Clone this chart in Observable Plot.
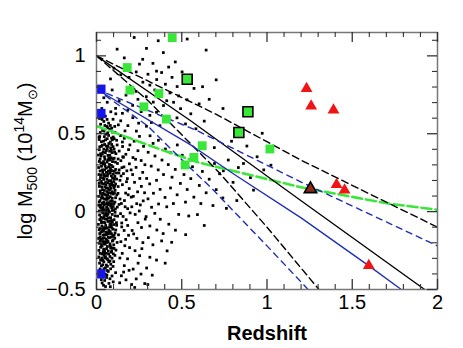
<!DOCTYPE html>
<html>
<head>
<meta charset="utf-8">
<script src="https://cdn.jsdelivr.net/npm/d3@7"></script>
<script src="https://cdn.jsdelivr.net/npm/@observablehq/plot@0.6"></script>
<style>
  html, body { margin: 0; padding: 0; background: #fff; }
</style>
</head>
<body>
<div id="chart"></div>
<script>
// ---- data ----
const xTicksMajor = [0, 0.5, 1, 1.5, 2];
const yTicksMajor = [-0.5, 0, 0.5, 1];
const xTicksMinor = [0.1,0.2,0.3,0.4,0.6,0.7,0.8,0.9,1.1,1.2,1.3,1.4,1.6,1.7,1.8,1.9];
const yTicksMinor = [-0.4,-0.3,-0.2,-0.1,0.1,0.2,0.3,0.4,0.6,0.7,0.8,0.9,1.1];

// black points: the low-redshift cluster sample
const clusterDots = [
[.031,.662],[.084,.641],[.052,.613],[.113,.628],[.018,.598],[.043,.579],[.071,.568],[.097,.593],[.128,.557],[.061,.547],[.024,.561],[.089,.536],
[.036,.521],[.054,.497],[.079,.528],[.108,.509],[.141,.488],[.019,.482],[.063,.468],[.098,.479],[.167,.518],[.041,.452],[.072,.437],[.093,.461],
[.121,.428],[.029,.419],[.048,.431],[.152,.447],[.083,.409],[.016,.397],[.039,.383],[.058,.392],[.103,.401],[.114,.372],[.133,.389],[.067,.361],
[.027,.357],[.091,.379],[.188,.398],[.021,.338],[.047,.352],[.062,.318],[.081,.331],[.104,.343],[.123,.309],[.038,.306],[.143,.327],[.087,.297],
[.158,.349],[.012,.283],[.033,.268],[.051,.291],[.069,.259],[.082,.277],[.112,.271],[.131,.248],[.044,.238],[.058,.252],[.099,.241],[.149,.282],
[.178,.262],[.023,.219],[.042,.207],[.064,.228],[.073,.198],[.094,.216],[.118,.209],[.031,.181],[.053,.187],[.078,.176],[.102,.193],[.138,.201],
[.017,.162],[.034,.141],[.049,.158],[.061,.129],[.084,.149],[.097,.168],[.109,.137],[.038,.118],[.071,.121],[.127,.161],[.091,.128],[.022,.133],
[.013,.098],[.029,.087],[.053,.108],[.064,.079],[.081,.096],[.093,.068],[.112,.089],[.042,.061],[.074,.057],[.119,.107],[.138,.081],[.021,.071],
[.024,.042],[.039,.027],[.056,.048],[.068,.019],[.083,.037],[.101,.012],[.122,.029],[.031,.003],[.062,.008],[.088,.051],[.109,-.004],[.132,.046],
[.018,-.021],[.043,-.033],[.058,-.012],[.071,-.041],[.092,-.018],[.103,-.052],[.124,-.029],[.027,-.058],[.052,-.047],[.079,-.061],[.141,-.013],[.036,-.009],
[.011,-.082],[.032,-.093],[.049,-.071],[.063,-.104],[.084,-.078],[.098,-.113],[.118,-.088],[.041,-.121],[.072,-.117],[.093,-.067],[.148,-.098],[.022,-.108],
[.019,-.141],[.038,-.152],[.054,-.131],[.069,-.163],[.088,-.142],[.107,-.171],[.028,-.178],[.061,-.183],[.081,-.128],[.129,-.149],[.046,-.168],
[.016,-.203],[.033,-.221],[.051,-.209],[.068,-.192],[.083,-.232],[.101,-.213],[.042,-.241],[.059,-.238],[.121,-.198],[.024,-.229],
[.021,-.268],[.039,-.257],[.053,-.289],[.071,-.272],[.089,-.251],[.108,-.281],[.032,-.298],[.062,-.303],[.047,-.263],
[.018,-.331],[.043,-.322],[.058,-.343],[.079,-.318],[.097,-.352],[.052,-.361],[.029,-.348],
[.033,-.381],[.051,-.402],[.069,-.384],[.091,-.413],[.038,-.421],[.112,-.392],[.048,-.442],[.073,-.461],[.041,-.473],[.098,-.451],[.081,-.482],[.022,-.401],
[.046,.481],[.066,.506],[.088,.472],[.028,.449],[.057,.421],[.077,.388],[.034,.371],[.049,.336],[.072,.344],[.094,.321],[.026,.313],[.058,.279],
[.076,.303],[.091,.263],[.037,.252],[.067,.241],[.087,.229],[.047,.226],[.056,.171],[.089,.184],[.112,.177],[.028,.195],[.067,.149],[.102,.152],
[.046,.136],[.076,.139],[.033,.103],[.061,.091],[.099,.113],[.047,.081],[.067,.043],[.089,.024],[.047,.012],[.076,-.003],[.098,.033],[.026,.022],
[.061,-.027],[.083,-.039],[.039,-.043],[.067,-.063],[.087,-.091],[.054,-.089],[.029,-.072],[.077,-.097],[.043,-.103],[.058,-.148],[.096,-.158],[.034,-.128],
[.073,-.141],[.049,-.193],[.079,-.207],[.093,-.189],[.036,-.192],[.064,-.224],[.087,-.261],[.044,-.281],[.067,-.309],[.036,-.313],[.084,-.338],[.063,-.378],
[.028,-.437],[.059,-.423],[.062,.592],[.049,.553],[.081,.553],[.107,.547],[.118,.458],[.127,.338],[.111,.318],[.117,.248],[.126,.117],[.108,.061],
[.117,-.071],[.109,-.137],[.114,-.247],[.101,-.321],[.014,.238],[.013,.041],[.012,-.172],[.014,-.291],[.011,.363],[.015,.478],[.097,.417],[.133,.268],
[.022,.508],[.044,.517],[.071,.489],[.093,.511],[.016,.463],[.053,.461],[.081,.447],[.104,.468],[.034,.427],[.067,.419],[.089,.431],[.019,.416],
[.043,.401],[.063,.404],[.087,.394],[.106,.382],[.024,.372],[.052,.378],[.078,.362],[.097,.338],[.017,.322],[.041,.321],[.066,.331],[.086,.346],
[.029,.291],[.048,.307],[.071,.287],[.096,.288],[.021,.261],[.047,.269],[.078,.264],[.104,.259],[.028,.236],[.056,.231],[.081,.247],[.108,.226],
[.019,.202],[.037,.217],[.061,.207],[.085,.199],[.104,.211],[.043,.178],[.067,.186],[.092,.172],[.016,.181],[.031,.159],[.058,.152],[.079,.162],
[.106,.163],[.023,.117],[.044,.113],[.066,.108],[.087,.117],[.105,.121],[.037,.088],[.057,.079],[.072,.089],[.092,.086],[.016,.062],[.034,.053],
[.061,.058],[.083,.069],[.102,.051],[.021,.031],[.043,.044],[.059,.027],[.078,.047],[.093,.007],[.017,.004],[.037,.014],[.053,-.006],[.072,.004],
[.111,.017],[.026,-.037],[.048,-.022],[.067,-.017],[.088,-.057],[.109,-.027],[.019,-.051],[.041,-.068],[.061,-.049],[.079,-.081],[.101,-.083],
[.016,-.116],[.036,-.113],[.052,-.108],[.071,-.131],[.091,-.106],[.113,-.118],[.026,-.132],[.046,-.148],[.064,-.139],[.087,-.163],[.103,-.152],
[.021,-.162],[.038,-.172],[.057,-.176],[.076,-.168],[.097,-.183],[.021,-.188],[.043,-.206],[.062,-.198],[.081,-.221],[.103,-.236],[.028,-.211],
[.047,-.252],[.069,-.253],[.092,-.233],[.014,-.249],[.034,-.272],[.057,-.268],[.079,-.288],[.099,-.271],[.024,-.312],[.049,-.298],[.072,-.322],
[.091,-.299],[.037,-.341],[.064,-.351],[.083,-.367],[.021,-.368],[.044,-.367],[.061,-.407],[.079,-.431],[.033,-.458],[.053,-.481],[.067,.538],[.033,.592],
[.142,.583],[.163,.471],[.184,.552],[.153,.418],[.172,.368],[.193,.307],[.161,.287],[.144,.229],[.181,.212],[.203,.268],[.152,.173],[.171,.119],
[.192,.148],[.146,.052],[.164,.071],[.183,.019],[.204,.093],[.156,-.031],[.174,-.052],[.197,-.008],[.162,-.121],[.183,-.089],[.143,-.193],[.171,-.178],
[.194,-.231],[.151,-.268],[.182,-.303],[.163,-.347],[.146,-.412],[.191,-.377],[.173,-.438],[.206,-.468],[.136,-.457],[.154,.352],[.196,.428],[.207,.031],
[.166,-.219],[.137,-.298],[.186,.108],[.209,-.121],[.158,.244],[.176,.192],[.168,.031],[.148,-.073],[.188,-.152],[.159,-.388],
[.213,.603],[.234,.517],[.221,.452],[.252,.483],[.243,.391],[.262,.328],[.214,.347],[.232,.284],[.271,.252],[.223,.188],[.254,.213],[.241,.127],
[.263,.162],[.216,.098],[.236,.051],[.274,.069],[.227,-.018],[.251,.004],[.243,-.071],[.264,-.102],[.218,-.143],[.237,-.172],[.272,-.199],[.226,-.251],
[.253,-.283],[.244,-.331],[.215,-.369],[.261,-.401],[.233,-.432],[.283,-.462],[.224,-.487],[.284,.301],[.282,.121],[.286,-.048],[.212,.238],[.276,.419],
[.247,.568],[.266,-.238],[.229,.336],[.257,.043],
[.293,.548],[.314,.487],[.332,.438],[.303,.381],[.343,.357],[.321,.292],[.362,.268],[.294,.213],[.312,.178],[.352,.201],[.334,.118],[.373,.143],
[.302,.082],[.323,.028],[.364,.049],[.291,-.032],[.342,-.011],[.313,-.092],[.354,-.118],[.304,-.167],[.331,-.213],[.382,-.188],[.313,-.293],[.352,-.311],
[.294,-.362],[.327,-.408],[.301,-.468],[.384,.331],[.393,.238],[.402,.091],[.374,-.049],[.391,-.141],[.363,.458],[.322,.572],[.404,.402],
[.421,.302],[.443,.221],[.462,.271],[.434,.152],[.473,.108],[.412,.031],[.451,.052],[.482,-.018],[.424,-.081],[.463,-.119],[.441,-.197],[.492,.181],
[.513,.238],[.532,.142],[.553,.212],[.522,.061],[.571,.093],[.541,-.028],[.592,-.019],[.563,.288],[.603,.168],[.582,.352],[.621,.258],[.643,.121],
[.661,.208],[.683,.039],[.702,.141],[.722,.243],[.692,.309],[.741,.088],[.503,.362],[.474,.428],[.433,.378],[.612,.052],[.414,-.252],[.403,-.331],
[.523,-.148],[.632,-.089],
[.773,.331],[.801,.188],[.832,.283],[.862,.309],[.792,.452],[.903,.218],[.942,.352],[.981,.268],[.882,.421],[.762,.021],[.823,.071],[.972,.503],
[1.023,.298],[.921,.138],[.691,.411],[.744,.262],
[.221,1.118],[.362,1.097],[.293,1.048],[.392,1.021],[.271,.978],[.252,.947],[.331,.952],[.423,.928],[.462,.961],[.532,1.108],[.643,1.037],[.572,.791],
[.473,.803],[.702,.846],[.121,1.043],[.163,.987],[.102,.921],[.142,.878],[.191,.862],[.233,.897],[.302,.882],[.353,.848],[.382,.893],[.313,.812],
[.272,.831],[.404,.818],[.443,.862],[.502,.897],[.431,.762],[.372,.741],[.333,.703],[.292,.738],[.243,.721],[.212,.682],[.173,.748],[.133,.712],
[.092,.781],[.063,.702],[.112,.663],[.152,.631],[.262,.642],[.313,.618],[.352,.638],[.393,.681],[.452,.702],[.493,.661],[.531,.718],[.553,.628],
[.602,.692],[.632,.581],[.661,.721],[.583,.532],[.522,.563],[.472,.602],[.413,.581],[.372,.552],[.082,.852],[.043,.731],[.183,.931],[.203,.798],
[.342,.781],[.482,.743],[.622,.802],[.742,.662],[.232,.772],[.283,.688],[.184,.653],[.352,.902],[.412,.712]
];

const greenSquares = [[.444,1.117],[.18,.925],[.196,.78],[.366,.758],[.278,.673],[.41,.594],[1.017,.402],[.62,.423],[.571,.348],[.52,.30]];
const greenSquaresOutlined = [[.532,.85],[.888,.641],[.835,.508]];
const blueSquares = [[.026,.786],[.026,.63],[.026,-.40]];
const redTriangles = [[1.232,.79],[1.259,.677],[1.39,.652],[1.408,.173],[1.455,.139],[1.597,-.346]];
const redTrianglesOutlined = [[1.255,.145]];

const blackSolid = [[0,1.0],[0.55,0.585],[1.2,0.07],[1.95,-0.52]];
const blackDashedUpper = [[0,1.0],[0.7,0.626],[1.2,0.33],[1.72,0.05],[2,-0.1]];
const blackDashedLower = [[0,1.0],[0.3,0.715],[0.72,0.25],[1.0,-0.1],[1.32,-0.52]];
const blueSolid = [[0,0.786],[0.55,0.43],[0.8,0.245],[1.2,-0.04],[1.6,-0.35],[1.8,-0.51]];
const blueDashedUpper = [[0,0.786],[0.59,0.52],[1.2,0.19],[1.98,-0.21],[2,-0.22]];
const blueDashedLower = [[0,0.786],[0.3,0.55],[0.55,0.28],[0.67,0.156],[1.0,-0.22],[1.25,-0.51]];
const greenDashed = [[0,0.55],[0.31,0.425],[0.59,0.318],[0.845,0.25],[1.2,0.156],[1.72,0.05],[2,0.012]];

// ---- chart ----
const W = 463, H = 348;
const mL = 96, mR = 26, mT = 32, mB = 59;
const innerW = W - mL - mR, innerH = H - mT - mB;
const majorLen = 10, minorLen = 5;
const GREEN = "#3be63b", BLUE = "#1414f0", BLUELINE = "#1e2db4", RED = "#f01414";
const px = d => d[0], py = d => d[1];
const fmt = d => (d < 0 ? "\u2212" : "") + String(Math.abs(d));

const tickColor = "#333";
const chart = Plot.plot({
  width: W, height: H,
  marginLeft: mL, marginRight: mR, marginTop: mT, marginBottom: mB,
  x: {domain: [0, 2]},
  y: {domain: [-0.5, 1.15]},
  style: {fontFamily: "'Liberation Sans', Arial, sans-serif", fontSize: "20px", color: "black", background: "white", overflow: "visible"},
  marks: [
    Plot.dot(clusterDots, {x: px, y: py, symbol: "square", r: 1.55, fill: "black", stroke: null}),
    Plot.line(greenDashed, {x: px, y: py, stroke: GREEN, strokeWidth: 2.6, strokeDasharray: "10,4", clip: true}),
    Plot.line(blackSolid, {x: px, y: py, stroke: "black", strokeWidth: 1.3, clip: true}),
    Plot.line(blackDashedUpper, {x: px, y: py, stroke: "black", strokeWidth: 1.4, strokeDasharray: "7,4", clip: true}),
    Plot.line(blackDashedLower, {x: px, y: py, stroke: "black", strokeWidth: 1.4, strokeDasharray: "7,4", clip: true}),
    Plot.line(blueSolid, {x: px, y: py, stroke: BLUELINE, strokeWidth: 1.3, clip: true}),
    Plot.line(blueDashedUpper, {x: px, y: py, stroke: BLUELINE, strokeWidth: 1.4, strokeDasharray: "6,5", clip: true}),
    Plot.line(blueDashedLower, {x: px, y: py, stroke: BLUELINE, strokeWidth: 1.4, strokeDasharray: "6,5", clip: true}),
    Plot.dot(greenSquares, {x: px, y: py, symbol: "square", r: 5.0, fill: GREEN, stroke: null}),
    Plot.dot(greenSquaresOutlined, {x: px, y: py, symbol: "square", r: 5.6, fill: GREEN, stroke: "black", strokeWidth: 1.6}),
    Plot.dot(blueSquares, {x: px, y: py, symbol: "square", r: 5.2, fill: BLUE, stroke: null}),
    Plot.dot(redTriangles, {x: px, y: py, symbol: "triangle", r: 4.4, fill: RED, stroke: null}),
    Plot.dot(redTrianglesOutlined, {x: px, y: py, symbol: "triangle", r: 4.6, fill: "#8a2a1a", stroke: "black", strokeWidth: 1.6}),
    Plot.frame({stroke: "#777", strokeWidth: 1.5}),
    // inward ticks on all four sides
    Plot.ruleX(xTicksMajor, {x: d => d, insetTop: innerH - majorLen, stroke: tickColor, strokeWidth: 1.3}),
    Plot.ruleX(xTicksMajor, {x: d => d, insetBottom: innerH - majorLen, stroke: tickColor, strokeWidth: 1.3}),
    Plot.ruleX(xTicksMinor, {x: d => d, insetTop: innerH - minorLen, stroke: tickColor, strokeWidth: 1.1}),
    Plot.ruleX(xTicksMinor, {x: d => d, insetBottom: innerH - minorLen, stroke: tickColor, strokeWidth: 1.1}),
    Plot.ruleY(yTicksMajor, {y: d => d, insetRight: innerW - majorLen, stroke: tickColor, strokeWidth: 1.3}),
    Plot.ruleY(yTicksMajor, {y: d => d, insetLeft: innerW - majorLen, stroke: tickColor, strokeWidth: 1.3}),
    Plot.ruleY(yTicksMinor, {y: d => d, insetRight: innerW - minorLen, stroke: tickColor, strokeWidth: 1.1}),
    Plot.ruleY(yTicksMinor, {y: d => d, insetLeft: innerW - minorLen, stroke: tickColor, strokeWidth: 1.1}),
    Plot.axisX({ticks: xTicksMajor, tickFormat: fmt, tickSize: 0, tickPadding: 5, fontSize: 20,
      label: "Redshift", labelAnchor: "center", labelArrow: "none", labelOffset: 50}),
    Plot.axisY({ticks: yTicksMajor, tickFormat: fmt, tickSize: 0, tickPadding: 11, fontSize: 20,
      label: "log M500 (10^14 M_sun)", labelAnchor: "center", labelArrow: "none", labelOffset: 79})
  ]
});
document.getElementById("chart").appendChild(chart);

// style axis labels
const svg = d3.select(chart);
svg.selectAll('g[aria-label="x-axis label"] text').style("font-weight", "bold");
const yl = svg.select('g[aria-label="y-axis label"] text');
yl.text(null);
const parts = [
  {t: "log M", size: 20, dy: 0},
  {t: "500", size: 14, dy: 5},
  {t: " (10", size: 20, dy: -5},
  {t: "14", size: 14, dy: -8},
  {t: "M", size: 20, dy: 8},
  {t: "\u2299", size: 13, dy: 5},
  {t: ")", size: 20, dy: -5}
];
parts.forEach(p => yl.append("tspan").attr("font-size", p.size).attr("dy", p.dy).text(p.t));
</script>
</body>
</html>
